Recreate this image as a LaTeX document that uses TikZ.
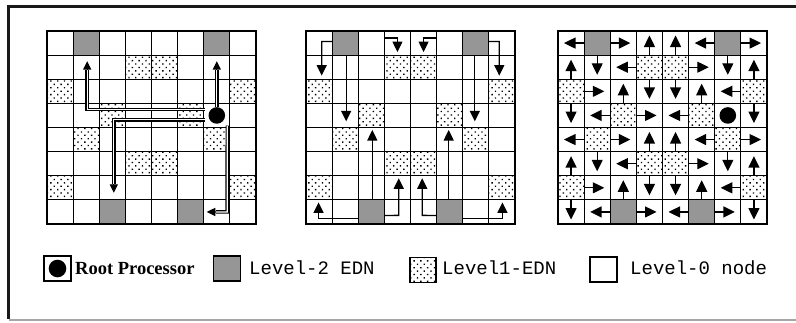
\documentclass[tikz,border=0pt]{standalone}
\usepackage{fontspec}
\setmainfont{Liberation Serif}
\newfontfamily\monof{Liberation Mono}
\usetikzlibrary{arrows.meta,patterns.meta,calc}
\definecolor{edntwo}{RGB}{150,150,150}
\tikzset{
  cellbox/.style={draw=black, line width=1.1pt, minimum width=26.125pt, minimum height=24.125pt,
    inner sep=0pt, outer sep=0pt, anchor=north west},
  dotfill/.style={pattern={Dots[distance=4.8pt, radius=0.95pt, angle=45]}},
  ltwo/.style={draw=black, line width=1.1pt, fill=edntwo},
  lone/.style={draw=black, line width=1.1pt, dotfill},
  tipA/.style={line width=1.3pt, -{Triangle[length=8.5pt,width=8pt]}},
  dbl/.style={line width=1.2pt, double=white, double distance=1.2pt, shorten >=9pt},
  wire/.style={line width=1.3pt, -{Triangle[length=10.5pt,width=10pt]}},
  cellarr/.style={line width=1.3pt, -{Triangle[length=11.5pt,width=11pt]}},
  legtext/.style={anchor=base west, inner sep=0pt},
}
\begin{document}
\begin{tikzpicture}[x=1pt,y=-1pt]
\useasboundingbox (0,0) rectangle (796,322);
\fill[white] (0,0) rectangle (796,322);
% frame
\draw[line width=1.5pt, black!35] (8.5,320) -- (796,320);
\draw[line width=2.6pt, black!90] (796,6.5) -- (8.5,6.5) -- (8.5,319);

% grids
\foreach \g/\xo in {1/47,2/306,3/558}{
  \foreach \r in {0,...,7}{
    \foreach \c in {0,...,7}{
      \node[cellbox] (g\g-\r-\c) at ({\xo+\c*26.125},{31+\r*24.125}) {};
    }
  }
  \foreach \r/\c in {0/1,0/6,7/2,7/5}
    \path[ltwo] (g\g-\r-\c.north west) rectangle (g\g-\r-\c.south east);
  \foreach \r/\c in {1/3,1/4,2/0,2/7,3/2,3/5,4/1,4/6,5/3,5/4,6/0,6/7}
    \path[lone] (g\g-\r-\c.north west) rectangle (g\g-\r-\c.south east);
  \draw[line width=1.5pt] (g\g-0-0.north west) rectangle (g\g-7-7.south east);
}

% root processors
\fill (g1-3-6.center) circle (8.3);
\fill (g3-3-6.center) circle (8.3);

% grid 1: double-line routes from the root
\draw[tipA] ($(g1-3-6.center)+(0,-8)$) -- ($(g1-1-6.north)+(0,6)$);
\draw[dbl]  ($(g1-3-6.center)+(0,-8)$) -- ($(g1-1-6.north)+(0,6)$);
\draw[tipA] ($(g1-3-6.north west)+(1,6)$) -- ($(g1-3-1.north)+(1,6)$) -- ($(g1-1-1.north)+(1,6)$);
\draw[dbl]  ($(g1-3-6.north west)+(1,6)$) -- ($(g1-3-1.north)+(1,6)$) -- ($(g1-1-1.north)+(1,6)$);
\draw[tipA] ($(g1-3-6.north west)+(1,16.5)$) -- ($(g1-3-2.north)+(1.5,16.5)$) -- ($(g1-6-2.north)+(1.5,17)$);
\draw[dbl]  ($(g1-3-6.north west)+(1,16.5)$) -- ($(g1-3-2.north)+(1.5,16.5)$) -- ($(g1-6-2.north)+(1.5,17)$);
\draw[tipA] ($(g1-3-6.south)+(10.5,-2)$) -- ($(g1-7-6.west)+(23.5,0)$) -- ($(g1-7-6.west)+(3,0)$);
\draw[dbl]  ($(g1-3-6.south)+(10.5,-2)$) -- ($(g1-7-6.west)+(23.5,0)$) -- ($(g1-7-6.west)+(3,0)$);

% grid 2: routes from the level-2 EDNs
\draw[wire] ($(g2-0-1.west)+(0,-1.5)$) -- ($(g2-0-0.north west)+(15.7,10.5)$) -- ($(g2-1-0.north west)+(15.7,20.5)$);
\draw[wire] ($(g2-0-1.south)+(1,0)$) -- ($(g2-3-1.north)+(1,18)$);
\draw[wire] ($(g2-0-3.north west)+(0,7)$) -- ($(g2-0-3.north)+(0,7)$) -- ($(g2-0-3.north)+(0,21)$);
\draw[wire] ($(g2-0-5.north west)+(0,7)$) -- ($(g2-0-4.north)+(0,7)$) -- ($(g2-0-4.north)+(0,21)$);
\draw[wire] ($(g2-0-6.east)+(0,-1.5)$) -- ($(g2-0-7.north west)+(10.4,10.5)$) -- ($(g2-1-7.north west)+(10.4,20.5)$);
\draw[wire] ($(g2-0-6.south)+(-1,0)$) -- ($(g2-3-6.north)+(-1,18)$);
\draw[wire] ($(g2-7-2.south west)+(0,-5.5)$) -- ($(g2-7-0.south)+(-0.5,-5.5)$) -- ($(g2-7-0.north)+(-0.5,2.5)$);
\draw[wire] ($(g2-7-2.north)+(1,0)$) -- ($(g2-4-2.north)+(1,2.5)$);
\draw[wire] ($(g2-7-2.east)+(0,3.5)$) -- ($(g2-7-3.north west)+(14.4,15.5)$) -- ($(g2-6-3.north west)+(14.4,2.5)$);
\draw[wire] ($(g2-7-5.west)+(0,3.5)$) -- ($(g2-7-4.north west)+(11.7,15.5)$) -- ($(g2-6-4.north west)+(11.7,2.5)$);
\draw[wire] ($(g2-7-5.north)+(-1,0)$) -- ($(g2-4-5.north)+(-1,2.5)$);
\draw[wire] ($(g2-7-5.south east)+(0,-5.5)$) -- ($(g2-7-7.south)+(0.5,-5.5)$) -- ($(g2-7-7.north)+(0.5,2.5)$);

% grid 3: per-cell arrows
\foreach \r/\c in {0/0,0/5,1/2,2/6,3/1,3/4,4/0,4/5,5/2,6/6,7/1,7/4}
  \draw[cellarr] (g3-\r-\c.east) -- ($(g3-\r-\c.west)+(6,0)$);
\foreach \r/\c in {0/2,0/7,1/5,2/1,3/3,4/2,4/7,5/5,6/1,7/3,7/6}
  \draw[cellarr] (g3-\r-\c.west) -- ($(g3-\r-\c.east)+(-6,0)$);
\foreach \r/\c in {0/3,0/4,1/0,1/7,2/2,2/5,4/3,4/4,5/0,5/7,6/2,6/5}
  \draw[cellarr] (g3-\r-\c.south) -- ($(g3-\r-\c.north)+(0,4.5)$);
\foreach \r/\c in {1/1,1/6,2/3,2/4,3/0,3/7,5/1,5/6,6/3,6/4,7/0,7/7}
  \draw[cellarr] (g3-\r-\c.north) -- ($(g3-\r-\c.south)+(0,-4.5)$);

% legend
\node[cellbox, line width=1.5pt, minimum width=27pt, minimum height=25pt] (lg-root) at (44,256) {};
\fill (lg-root.center) circle (8.8);
\node[legtext, font=\fontsize{18.5}{20}\selectfont\bfseries] (lt-root) at (75,274.5) {Root Processor};
\node[cellbox, line width=1.5pt, minimum width=27pt, minimum height=25pt, fill=edntwo] (lg-two) at (213.5,256) {};
\node[legtext, font=\monof\fontsize{19}{20}\selectfont] (lt-two) at (249,274) {Level-2 EDN};
\node[cellbox, line width=1.5pt, minimum width=26pt, minimum height=25pt, dotfill] (lg-one) at (410,257.5) {};
\node[legtext, font=\monof\fontsize{19}{20}\selectfont] (lt-one) at (442,274) {Level1-EDN};
\node[cellbox, line width=1.5pt, minimum width=27pt, minimum height=25pt] (lg-zero) at (590,257) {};
\node[legtext, font=\monof\fontsize{19}{20}\selectfont] (lt-zero) at (630,274) {Level-0 node};
\end{tikzpicture}
\end{document}
